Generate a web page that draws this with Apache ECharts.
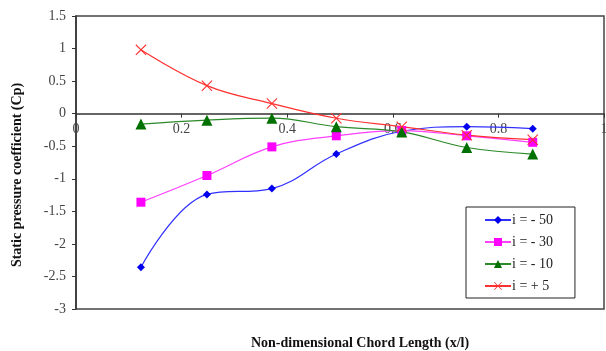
<!DOCTYPE html>
<html><head><meta charset="utf-8">
<script src="https://cdn.jsdelivr.net/npm/echarts@6/dist/echarts.min.js"></script>
<style>html,body{margin:0;padding:0;background:#fff}#c{width:606px;height:351px}</style>
</head><body><div id="c"></div>
<script>
var xPos = [0.123, 0.248, 0.371, 0.493, 0.617, 0.740, 0.865];
var iMinus50 = [-2.36, -1.24, -1.15, -0.62, -0.27, -0.20, -0.23];
var iMinus30 = [-1.36, -0.95, -0.51, -0.34, -0.26, -0.34, -0.44];
var iMinus10 = [-0.16, -0.10, -0.07, -0.20, -0.28, -0.52, -0.62];
var iPlus5   = [0.98, 0.43, 0.155, -0.07, -0.20, -0.33, -0.40];
var seriesNames = ['i = - 50', 'i = - 30', 'i = - 10', 'i = + 5'];
var xTitle = 'Non-dimensional Chord Length (x/l)';
var yTitle = 'Static pressure coefficient (Cp)';

function pts(ys){ return xPos.map(function(x,i){return [x, ys[i]];}); }
var font = '"Liberation Serif", "DejaVu Serif", serif';
var crossPath = 'path://M0,0.7 L0.7,0 L5,4.3 L9.3,0 L10,0.7 L5.7,5 L10,9.3 L9.3,10 L5,5.7 L0.7,10 L0,9.3 L4.3,5 Z';

var gridTop = 16, gridBottomPx = 309;
var zeroOffset = -(gridBottomPx - (gridTop + (gridBottomPx - gridTop) * 1.5 / 4.5));

var chart = echarts.init(document.getElementById('c'));
chart.setOption({
  animation: false,
  backgroundColor: '#fff',
  grid: { left: 76, right: 2, top: gridTop, bottom: 351 - gridBottomPx, show: true, borderColor: '#444', borderWidth: 1.5, backgroundColor: '#fff', outerBoundsMode: 'none', containLabel: false },
  graphic: [
    { type: 'text', x: 360, y: 343, style: { text: xTitle, font: 'bold 14px ' + font, fill: '#111', align: 'center', verticalAlign: 'middle' } },
    { type: 'text', x: 17, y: 175, rotation: Math.PI / 2, style: { text: yTitle, font: 'bold 14px ' + font, fill: '#111', align: 'center', verticalAlign: 'middle' } }
  ],
  xAxis: {
    type: 'value', min: 0, max: 1, interval: 0.2, offset: zeroOffset,
    axisLine: { onZero: false, lineStyle: { color: '#333', width: 1.5 } },
    axisTick: { show: true, inside: false, length: 4, lineStyle: { color: '#333' } },
    axisLabel: { fontFamily: font, fontSize: 14, color: '#444', margin: 9, showMaxLabel: true, showMinLabel: true },
    splitLine: { show: false }
  },
  yAxis: {
    type: 'value', min: -3, max: 1.5, interval: 0.5,
    axisLine: { show: true, lineStyle: { color: '#333', width: 1.5 } },
    axisTick: { show: true, length: 4, lineStyle: { color: '#333' } },
    axisLabel: { fontFamily: font, fontSize: 14, color: '#444', margin: 10 },
    splitLine: { show: false }
  },
  legend: {
    orient: 'vertical', left: 466, top: 207, width: 109,
    backgroundColor: '#fff', borderColor: '#222', borderWidth: 1,
    padding: [6, 22, 5, 18], itemGap: 8, itemWidth: 26, itemHeight: 10,
    textStyle: { fontFamily: font, fontSize: 14, color: '#222', padding: [0,0,0,-4] },
    data: seriesNames
  },
  series: [
    { name: seriesNames[0], type: 'line', data: pts(iMinus50), smooth: 0.4,
      symbol: 'diamond', symbolSize: 8,
      lineStyle: { color: '#3030ff', width: 1.2 }, itemStyle: { color: '#0000ee' } },
    { name: seriesNames[1], type: 'line', data: pts(iMinus30), smooth: 0.4,
      symbol: 'rect', symbolSize: 9,
      lineStyle: { color: '#ff40ff', width: 1.2 }, itemStyle: { color: '#ff00ff' } },
    { name: seriesNames[2], type: 'line', data: pts(iMinus10), smooth: 0.4,
      symbol: 'triangle', symbolSize: 11,
      lineStyle: { color: '#2a8a2a', width: 1.2 }, itemStyle: { color: '#007000' } },
    { name: seriesNames[3], type: 'line', data: pts(iPlus5), smooth: 0.4,
      symbol: crossPath, symbolSize: 11,
      lineStyle: { color: '#ff3030', width: 1.2 }, itemStyle: { color: '#ff3030' } }
  ]
});
</script>
</body></html>
